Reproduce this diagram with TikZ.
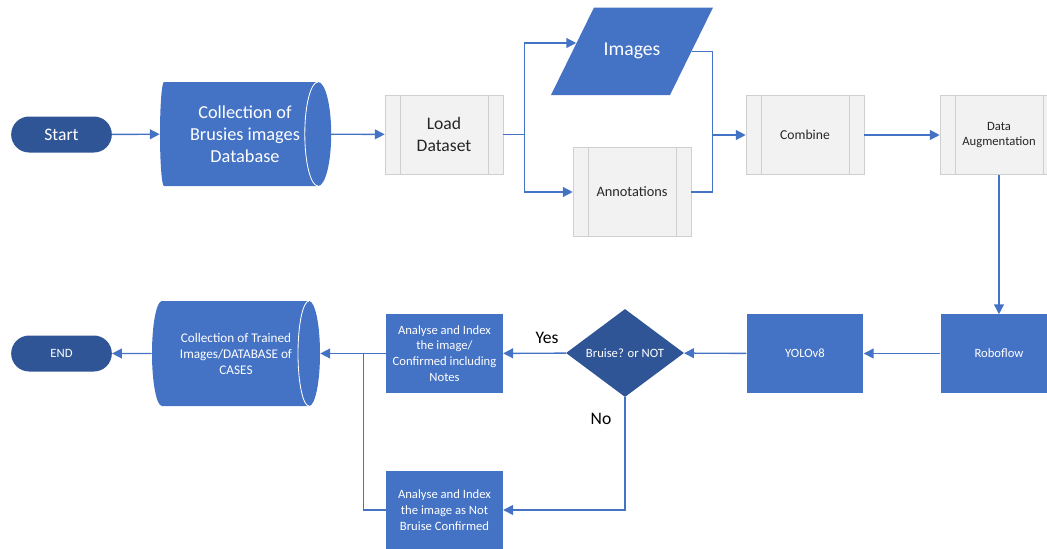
\documentclass[tikz,border=0pt]{standalone}
\usepackage{fontspec}
\setmainfont{Carlito}
\usetikzlibrary{shapes.geometric,shapes.misc,arrows.meta}
\definecolor{boxblue}{HTML}{4472C4}
\definecolor{darkblue}{HTML}{2F5597}
\definecolor{boxgray}{HTML}{F2F2F2}
\definecolor{edgegray}{HTML}{CFCFCF}

\begin{document}
\begin{tikzpicture}[x=0.025cm, y=-0.025cm,
    terminal/.style = {rounded rectangle, fill=darkblue, text=white, minimum width=2.75cm, minimum height=0.9cm},
    store/.style = {text=white, align=center, minimum width=4.25cm, minimum height=2.65cm},
    process/.style = {rectangle, fill=boxgray, draw=edgegray, text=black!85, align=center,
        minimum width=2.95cm, minimum height=1.98cm,
        path picture={
            \draw[edgegray] ([xshift=0.375cm]path picture bounding box.north west) -- ([xshift=0.375cm]path picture bounding box.south west);
            \draw[edgegray] ([xshift=-0.375cm]path picture bounding box.north east) -- ([xshift=-0.375cm]path picture bounding box.south east);}},
    task/.style = {rectangle, fill=boxblue, text=white, align=center, minimum width=2.92cm, minimum height=1.95cm,
        font=\fontsize{9}{11.2}\selectfont},
    decision/.style = {diamond, fill=darkblue, text=white, inner sep=0pt, aspect=2,
        minimum width=2.95cm, minimum height=2.2cm, font=\fontsize{9}{11}\selectfont},
    io/.style = {rectangle, text=white, minimum width=2.975cm, minimum height=2.1875cm},
    flow/.style = {draw=boxblue, line width=1pt},
    arrow/.style = {flow, -{Triangle[length=7pt, width=7pt]}},
    answer/.style = {font=\fontsize{12.5}{15}\selectfont}
]
\useasboundingbox (0,0) rectangle (1047,548);

% storage and input shapes drawn first, text nodes on top
\fill[boxblue] (164,82) -- (318,82) arc[start angle=90, end angle=-90, x radius=0.33cm, y radius=1.3cm]
    -- (164,186) arc[start angle=270, end angle=90, x radius=0.1cm, y radius=1.3cm] -- cycle;
\draw[white, line width=0.6pt] (318,82) arc[start angle=90, end angle=270, x radius=0.33cm, y radius=1.3cm];
\fill[boxblue] (162,301) -- (309,301) arc[start angle=90, end angle=-90, x radius=0.275cm, y radius=1.3125cm]
    -- (162,406) arc[start angle=270, end angle=90, x radius=0.25cm, y radius=1.3125cm] -- cycle;
\draw[white, line width=0.6pt] (309,301) arc[start angle=90, end angle=270, x radius=0.275cm, y radius=1.3125cm];
\fill[boxblue] (594,7.5) -- (713,7.5) -- (670,95) -- (551,95) -- cycle;

% top row
\node[terminal, font=\fontsize{12.5}{15}\selectfont] (start) at (61.5,134.5) {Start};
\node[store, font=\fontsize{13}{15.8}\selectfont] (coll) at (245,134) {Collection of\\Brusies images\\Database};
\node[process, font=\fontsize{12.5}{15.5}\selectfont] (load) at (444,134.5) {Load\\Dataset};
\node[io, font=\fontsize{14}{17}\selectfont] (img) at (632,51.25) {Images};
\node[process, minimum width=2.95cm, minimum height=2.22cm, font=\fontsize{10.2}{12}\selectfont] (annot) at (632,192) {Annotations};
\node[process, font=\fontsize{9.7}{11.5}\selectfont] (comb) at (805,135) {Combine};
\node[process, font=\fontsize{9}{10.8}\selectfont] (aug) at (999,135) {Data\\Augmentation};

% bottom row
\node[task] (robo) at (999,353.5) {Roboflow};
\node[task] (yolo) at (805,353.5) {YOLOv8};
\node[decision] (dec) at (625,353) {Bruise? or NOT};
\node[task, minimum width=2.92cm] (yes) at (444.5,353.5) {Analyse and Index\\the image/\\Confirmed including\\Notes};
\node[task, minimum width=2.92cm] (no) at (444.5,510) {Analyse and Index\\the image as Not\\Bruise Confirmed};
\node[store, minimum width=4.2cm, minimum height=2.625cm, font=\fontsize{9.4}{11.4}\selectfont] (trained) at (236,353.5) {Collection of Trained\\Images/DATABASE of\\CASES};
\node[terminal, font=\fontsize{9}{11}\selectfont] (end) at (61.5,353.5) {END};

\node[answer] (yeslbl) at (547,338) {Yes};
\node[answer] (nolbl) at (601,419) {No};

\coordinate (fork) at (524.5,134.5);
\coordinate (join) at (712.5,135);
\coordinate (merge) at (363.5,353.5);

% connectors
\draw[arrow] (start) -- (coll);
\draw[arrow] (coll) -- (load);
\draw[flow] (load) -- (fork);
\draw[arrow] (fork) |- ([xshift=0.1cm, yshift=0.206cm]img.west);
\draw[arrow] (fork) |- (annot);
\draw[flow] (img.east) -| (join);
\draw[flow] (annot) -| (join);
\draw[arrow] (join) -- (comb);
\draw[arrow] (comb) -- (aug);
\draw[arrow] (aug) -- (robo);
\draw[arrow] (robo) -- (yolo);
\draw[arrow] (yolo) -- (dec);
\draw[arrow] (dec) -- (yes);
\draw[arrow] (dec.south) |- (no);
\draw[arrow] (yes) -- (trained);
\draw[flow] (no) -| (merge);
\draw[arrow] (trained) -- (end);
\end{tikzpicture}
\end{document}
